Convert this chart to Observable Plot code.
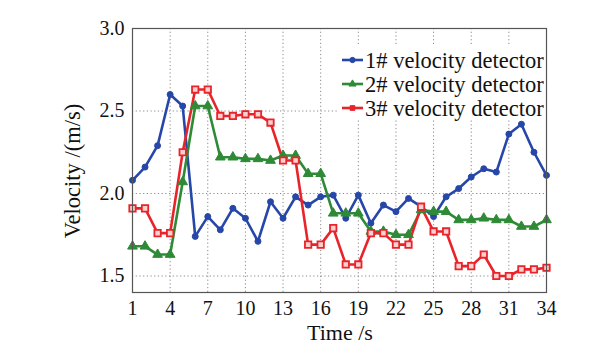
<!DOCTYPE html>
<html>
<head>
<meta charset="utf-8">
<script src="https://cdn.jsdelivr.net/npm/d3@7"></script>
<script src="https://cdn.jsdelivr.net/npm/@observablehq/plot@0.6"></script>
<style>
  html, body { margin: 0; padding: 0; background: #fff; }
  #chart { width: 615px; height: 345px; }
</style>
</head>
<body>
<div id="chart"></div>
<script>
const time = d3.range(1, 35);
const detector1 = [2.08, 2.16, 2.29, 2.60, 2.53, 1.74, 1.86, 1.78, 1.91, 1.85, 1.71, 1.95, 1.85, 1.98, 1.93, 1.98, 1.99,
                   1.85, 1.99, 1.82, 1.93, 1.89, 1.97, 1.92, 1.86, 1.98, 2.03, 2.10, 2.15, 2.13, 2.36, 2.42, 2.25, 2.11];
const detector2 = [1.68, 1.68, 1.63, 1.63, 2.07, 2.53, 2.53, 2.22, 2.22, 2.21, 2.21, 2.20, 2.23, 2.23, 2.12, 2.12, 1.88,
                   1.88, 1.88, 1.77, 1.77, 1.75, 1.75, 1.90, 1.89, 1.89, 1.84, 1.84, 1.85, 1.84, 1.84, 1.80, 1.80, 1.84];
const detector3 = [1.91, 1.91, 1.76, 1.76, 2.25, 2.63, 2.63, 2.47, 2.47, 2.48, 2.48, 2.43, 2.20, 2.20, 1.69, 1.69, 1.79,
                   1.57, 1.57, 1.76, 1.76, 1.69, 1.69, 1.92, 1.77, 1.77, 1.56, 1.56, 1.63, 1.50, 1.50, 1.54, 1.54, 1.55];
const seriesNames = ["1# velocity detector", "2# velocity detector", "3# velocity detector"];
const seriesColors = ["#2747a8", "#2e8a36", "#e8242a"];
const seriesSymbols = ["circle", "triangle", "square"];
const xTicks = [1, 4, 7, 10, 13, 16, 19, 22, 25, 28, 31, 34];
const yTicks = [1.5, 2.0, 2.5, 3.0];
const xLabel = "Time /s";
const yLabel = "Velocity /(m/s)";

const serif = "Liberation Serif";
const allSeries = [detector1, detector2, detector3];
const rows = allSeries.map((vals, k) => time.map((t, i) => ({t, v: vals[i], s: seriesNames[k]})));

const marks = [
  Plot.gridX(xTicks, {stroke: "#888", strokeOpacity: 1, strokeDasharray: "1.2,2.5", strokeWidth: 1}),
  Plot.gridY(yTicks, {stroke: "#888", strokeOpacity: 1, strokeDasharray: "1.2,2.5", strokeWidth: 1}),
  Plot.axisX(xTicks, {tickSize: 0, tickPadding: 8, fontSize: 20, label: null}),
  Plot.axisY(yTicks, {tickSize: 0, tickPadding: 8, fontSize: 20, label: null, tickFormat: d3.format(".1f")}),
];
rows.forEach((data, k) => {
  marks.push(Plot.line(data, {x: "t", y: "v", stroke: seriesColors[k], strokeWidth: 2.6}));
});
rows.forEach((data, k) => {
  const sym = seriesSymbols[k];
  marks.push(Plot.dot(data, {
    x: "t", y: "v", symbol: sym,
    r: sym === "circle" ? 3 : (sym === "triangle" ? 3.6 : 3.6),
    fill: sym === "square" ? "#fbd0d0" : seriesColors[k],
    stroke: seriesColors[k], strokeWidth: sym === "square" ? 1.8 : 1
  }));
});
marks.push(Plot.frame({stroke: "#555", strokeWidth: 1.2}));

const chart = Plot.plot({
  width: 615,
  height: 345,
  marginLeft: 132,
  marginRight: 69,
  marginTop: 28,
  marginBottom: 53,
  style: {background: "#fff", color: "#111"},
  x: {domain: [1, 34], label: null},
  y: {domain: [1.4, 3.0], label: null},
  marks
});

const svg = d3.select(chart);
svg.style("font-family", serif);

// axis titles
svg.append("text").attr("x", 340).attr("y", 340)
  .attr("text-anchor", "middle").attr("font-size", 22).attr("fill", "#111")
  .attr("font-family", serif).text(xLabel);
svg.append("text").attr("transform", "translate(80,171) rotate(-90)")
  .attr("text-anchor", "middle").attr("font-size", 22.5).attr("fill", "#111")
  .attr("font-family", serif).text(yLabel);

// legend
const lg = svg.append("g").attr("text-anchor", "start").attr("font-family", serif);
lg.append("rect").attr("x", 339).attr("y", 46).attr("width", 206).attr("height", 74).attr("fill", "#fff");
seriesNames.forEach((name, k) => {
  const cy = 60 + k * 24;
  lg.append("line").attr("x1", 342).attr("x2", 363).attr("y1", cy).attr("y2", cy)
    .attr("stroke", seriesColors[k]).attr("stroke-width", 2.6);
  const sym = d3.symbol().type(k === 0 ? d3.symbolCircle : (k === 1 ? d3.symbolTriangle : d3.symbolSquare)).size(22);
  lg.append("path").attr("d", sym()).attr("transform", `translate(352.5,${cy})`)
    .attr("fill", seriesColors[k]).attr("stroke", seriesColors[k]);
  lg.append("text").attr("x", 365).attr("y", cy).attr("dy", "0.35em")
    .attr("font-size", 22.5).attr("fill", "#111")
    .attr("font-family", serif).text(name);
});

document.getElementById("chart").appendChild(chart);
</script>
</body>
</html>
